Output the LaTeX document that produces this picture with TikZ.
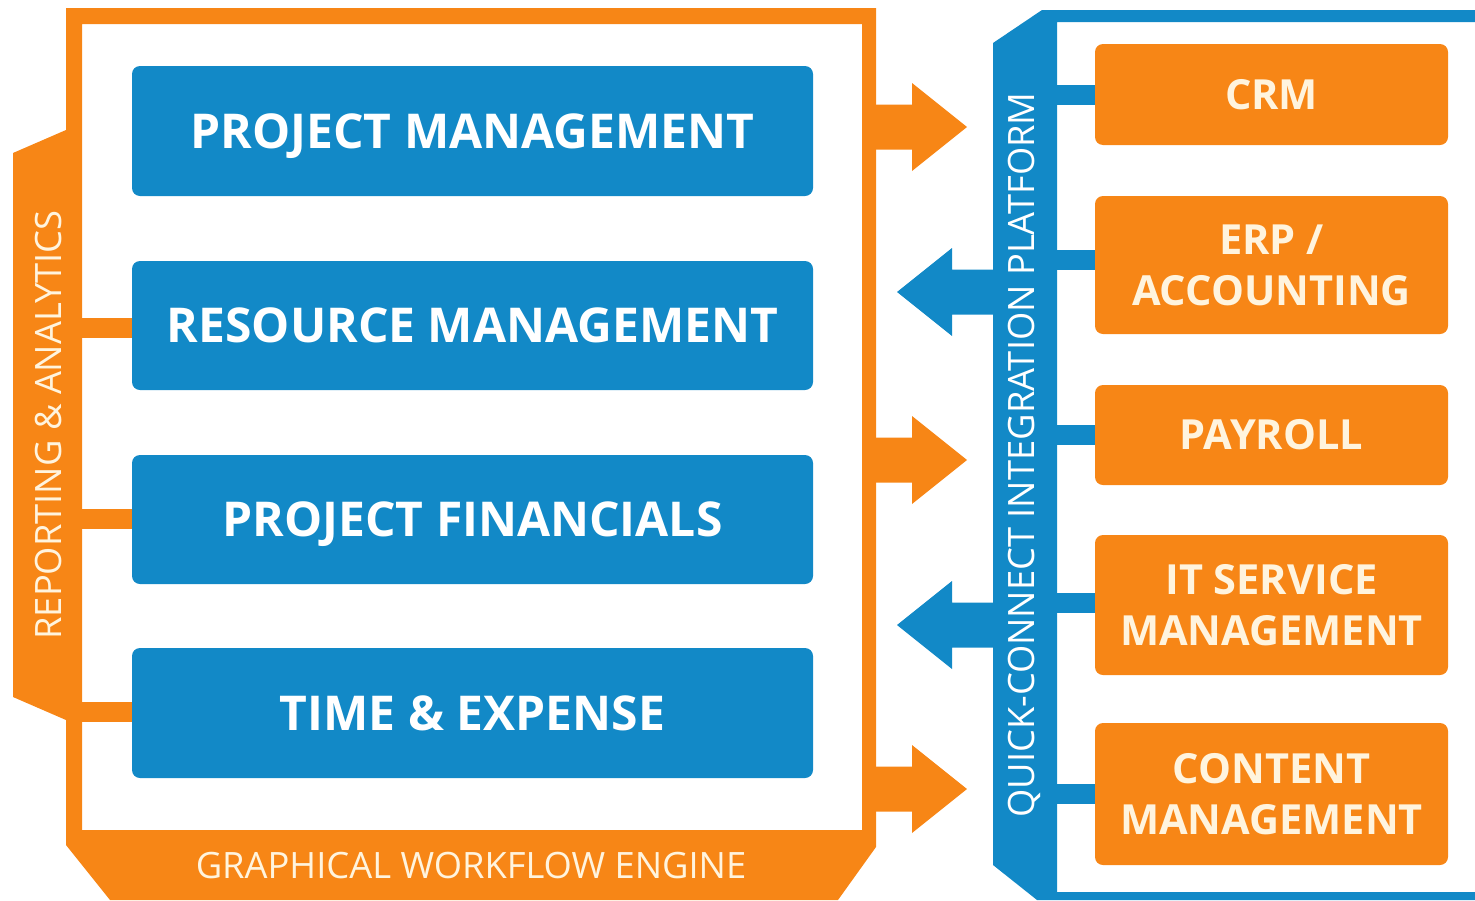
\documentclass[tikz,border=0pt]{standalone}
\usepackage{fontspec}
\setmainfont{Open Sans}
\definecolor{orng}{RGB}{247,134,22}
\definecolor{blu}{RGB}{18,137,199}
\definecolor{cream}{RGB}{255,244,222}
\begin{document}
\begin{tikzpicture}[x=1pt,y=-1pt,
  bbox/.style={fill=blu, rounded corners=8pt, minimum width=681pt, inner sep=0pt, text=white, text height=34.3pt, text depth=0pt, font=\fontsize{48}{56}\selectfont\bfseries},
  obox/.style={fill=orng, rounded corners=8pt, minimum width=353pt, inner sep=0pt, text=cream, align=center, font=\fontsize{41.5}{51}\selectfont\bfseries},
  lbl/.style={inner sep=0pt, font=\fontsize{36.3}{40}\selectfont},
  ostub/.style={orng, line width=20pt},
  bstub/.style={blu, line width=20pt}]
\useasboundingbox (0,0) rectangle (1475,900);
% left orange frame with tab
\fill[orng, even odd rule] (66,8) -- (876,8) -- (876,847) -- (838,900) -- (110,900) -- (66,845) -- (66,720) -- (13,697) -- (13,153) -- (66,130) -- cycle
  (82,24) rectangle (862,830);
% right blue frame
\fill[blu, even odd rule] (993,43) -- (1042,10) -- (1475,10) -- (1475,900) -- (1037,900) -- (993,865) -- cycle
  (1057,22) rectangle (1475,892);
% blue boxes
\node[bbox, minimum height=130pt] (pm) at (472.5,131) {PROJECT MANAGEMENT};
\node[bbox, minimum height=129pt] (rm) at (472.5,325.5) {RESOURCE MANAGEMENT};
\node[bbox, minimum height=129pt] (pf) at (472.5,519.5) {PROJECT FINANCIALS};
\node[bbox, minimum height=130pt] (te) at (472.5,713) {TIME \& EXPENSE};
% orange boxes
\node[obox, minimum height=101pt] (crm) at (1271.5,94.5) {CRM};
\node[obox, minimum height=138pt] (erp) at (1271.5,265) {ERP /\\ACCOUNTING};
\node[obox, minimum height=100pt] (pay) at (1271.5,435) {PAYROLL};
\node[obox, minimum height=140pt] (its) at (1271.5,605) {IT SERVICE\\MANAGEMENT};
\node[obox, minimum height=142pt] (cms) at (1271.5,794) {CONTENT\\MANAGEMENT};
% left stubs
\coordinate (l2) at (80,328);
\coordinate (l3) at (80,518.5);
\coordinate (l4) at (80,712);
\draw[ostub] (l2) -- (rm.west |- l2);
\draw[ostub] (l3) -- (pf.west |- l3);
\draw[ostub] (l4) -- (te.west |- l4);
% right stubs
\foreach \n/\y in {crm/94.5, erp/260, pay/435, its/603, cms/794}{
  \coordinate (r\n) at (1053,\y);
  \draw[bstub] (r\n) -- (\n.west |- r\n);
}
% orange arrows (right)
\foreach \c in {127,460,789}{
  \fill[orng] (870,\c-22.5) -- (912,\c-22.5) -- (912,\c-44) -- (967,\c) -- (912,\c+44) -- (912,\c+22.5) -- (870,\c+22.5) -- cycle;
}
% blue arrows (left)
\foreach \c in {292,625}{
  \fill[blu] (998,\c-22.5) -- (952,\c-22.5) -- (952,\c-44) -- (897,\c) -- (952,\c+44) -- (952,\c+22.5) -- (998,\c+22.5) -- cycle;
}
% labels
\node[lbl, text=cream, rotate=90] (rep) at (49,425) {REPORTING \& ANALYTICS};
\node[lbl, text=cream] (gwe) at (471,866) {GRAPHICAL WORKFLOW ENGINE};
\node[lbl, text=white, rotate=90] (qc) at (1024,455) {QUICK-CONNECT INTEGRATION PLATFORM};
\end{tikzpicture}
\end{document}
